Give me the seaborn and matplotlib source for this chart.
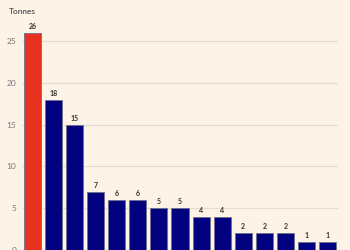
import matplotlib
matplotlib.use("Agg")
import matplotlib.pyplot as plt
import seaborn as sns
import pandas as pd

categories = [f"C{i+1}" for i in range(15)]
values = [26, 18, 15, 7, 6, 6, 5, 5, 4, 4, 2, 2, 2, 1, 1]
highlight = [True] + [False] * 14

df = pd.DataFrame({"cat": categories, "val": values,
                   "hl": ["yes" if h else "no" for h in highlight]})

sns.set_theme(style="white")
plt.rcParams['font.family'] = ['Lato', 'DejaVu Sans']
bg = "#FDF3E7"
fig = plt.figure(figsize=(3.5, 2.5), dpi=100, facecolor=bg)
ax = fig.add_axes([22/350, 0.0, 316/350, (250-16)/250])
ax.set_facecolor(bg)

sns.barplot(data=df, x="cat", y="val", hue="hl", hue_order=["yes", "no"],
            palette={"yes": "#E6321F", "no": "#020280"}, dodge=False,
            saturation=1, width=0.81, edgecolor="#707088", linewidth=0.6,
            legend=False, ax=ax, zorder=3)

for i, v in enumerate(values):
    ax.text(i, v + 0.35, str(v), ha="center", va="bottom", fontsize=5,
            fontweight="bold", color="#333333")

ax.set_xlim(-0.5, 14.5)
ax.set_ylim(0, 28)
ax.set_yticks([0, 5, 10, 15, 20, 25])
ax.yaxis.grid(True, color="#E6DDD2", linewidth=0.9, zorder=0)
ax.set_axisbelow(True)
ax.tick_params(axis="y", labelsize=6, labelcolor="#777777", length=0, pad=4)
ax.tick_params(axis="x", length=0, labelbottom=False)
ax.set_xlabel("")
ax.set_ylabel("")
for s in ax.spines.values():
    s.set_visible(False)

fig.text(9/350, 1 - 12/250, "Tonnes", fontsize=6, color="#555555",
         fontweight="semibold", ha="left", va="center")

fig.savefig("out.png", dpi=100, facecolor=bg)
